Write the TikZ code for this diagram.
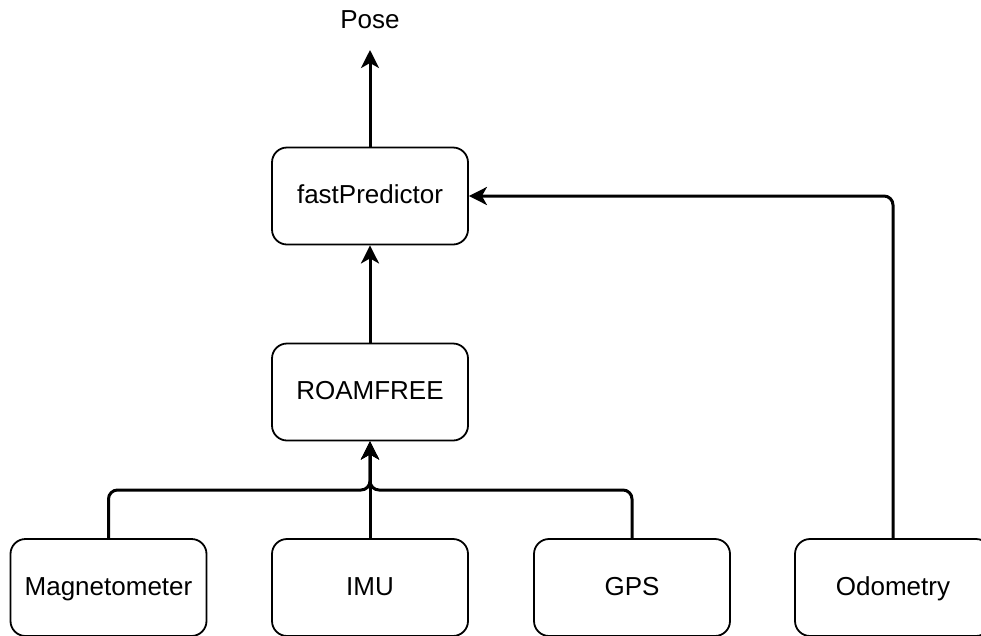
\documentclass[tikz,border=0pt]{standalone}
\usepackage{fontspec}
\setmainfont{Liberation Sans}
\usetikzlibrary{arrows.meta}
\begin{document}
\begin{tikzpicture}[x=1pt,y=-1pt,
  box/.style={draw, line width=1.8pt, rounded corners=15pt, minimum width=196pt,
    minimum height=97pt, inner sep=0pt, text height=18pt, text depth=3pt,
    font=\fontsize{26}{31}\selectfont},
  lbl/.style={font=\fontsize{26}{31}\selectfont},
  arr/.style={line width=3pt, rounded corners=9pt,
    -{Stealth[length=18pt,width=18pt,inset=5pt]}}]
  \useasboundingbox (0,0) rectangle (981,635);
  \clip (0,0) rectangle (981,635);
  % processing chain
  \node[box] (fp) at (370,196) {fastPredictor};
  \node[box] (roam) at (370,392) {ROAMFREE};
  % sensors
  \node[box] (mag) at (108.5,587.5) {Magnetometer};
  \node[box] (imu) at (370,587.5) {IMU};
  \node[box] (gps) at (632,587.5) {GPS};
  \node[box] (odo) at (893,587.5) {Odometry};
  % output
  \node[lbl] (pose) at (370,20) {Pose};
  \coordinate (posetip) at (370,50);
  \coordinate (join) at (370,490);
  % connectors
  \draw[arr] (fp.north) -- (posetip);
  \draw[arr] (roam.north) -- (fp.south);
  \draw[arr] (imu.north) -- (roam.south);
  \draw[arr] (mag.north) |- (join) -- (roam.south);
  \draw[arr] (gps.north) |- (join) -- (roam.south);
  \draw[arr] (odo.north) |- (fp.east);
\end{tikzpicture}
\end{document}
